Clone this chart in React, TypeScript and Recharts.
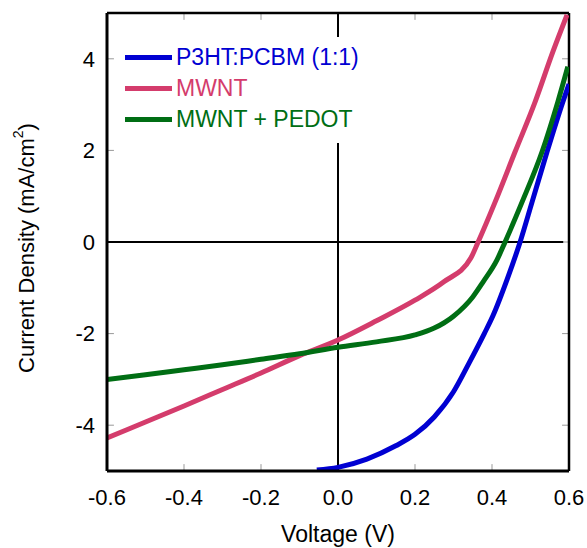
import React from 'react';
import {
  LineChart,
  Line,
  XAxis,
  YAxis,
  ReferenceLine,
  Legend,
  Label,
} from 'recharts';

// voltage (V) / current density (mA/cm2)
const p3htVoltage = [-0.055, 0, 0.075, 0.15, 0.2, 0.25, 0.3, 0.34, 0.38, 0.403, 0.44, 0.473, 0.504, 0.543, 0.584, 0.6];
const p3htCurrent = [-4.98, -4.92, -4.74, -4.45, -4.2, -3.82, -3.27, -2.65, -2.0, -1.6, -0.8, 0, 0.87, 1.97, 3.06, 3.45];

const mwntVoltage = [-0.6, -0.5, -0.4, -0.3, -0.2, -0.1, 0, 0.1, 0.2, 0.275, 0.345, 0.364, 0.408, 0.46, 0.512, 0.558, 0.595];
const mwntCurrent = [-4.28, -3.93, -3.58, -3.22, -2.86, -2.48, -2.14, -1.72, -1.27, -0.87, -0.35, 0, 0.87, 1.97, 3.06, 4.15, 4.96];

const pedotVoltage = [-0.6, -0.5, -0.4, -0.3, -0.2, -0.1, 0, 0.1, 0.2, 0.25, 0.3, 0.35, 0.377, 0.413, 0.434, 0.478, 0.53, 0.571, 0.597];
const pedotCurrent = [-3.0, -2.9, -2.79, -2.68, -2.56, -2.44, -2.3, -2.18, -2.03, -1.88, -1.62, -1.2, -0.87, -0.39, 0, 0.87, 1.97, 3.06, 3.83];

const xTicks = [-0.6, -0.4, -0.2, 0, 0.2, 0.4, 0.6];
const yTicks = [-4, -2, 0, 2, 4];
const xDomain: [number, number] = [-0.6, 0.6];
const yDomain: [number, number] = [-5, 5];

const toPoints = (vs: number[], js: number[]) => vs.map((v, i) => ({ v, j: js[i] }));

const series = [
  { name: 'P3HT:PCBM (1:1)', color: '#0000d2', data: toPoints(p3htVoltage, p3htCurrent) },
  { name: 'MWNT', color: '#d43c6c', data: toPoints(mwntVoltage, mwntCurrent) },
  { name: 'MWNT + PEDOT', color: '#006e14', data: toPoints(pedotVoltage, pedotCurrent) },
];

const font = '"Liberation Sans", Arial, sans-serif';
const tickColor = '#999';
// inward tick length, in data units (about 7px)
const xTickLen = 0.018;
const yTickLen = 0.15;

function BottomTick(props: any) {
  const { x, y, payload } = props;
  return (
    <text x={x} y={y} dy="0.71em" textAnchor="middle" fontSize={22} fill="#000" fontFamily={font}>
      {Number(payload.value).toFixed(1)}
    </text>
  );
}

function LeftTick(props: any) {
  const { x, y, payload } = props;
  return (
    <text x={x} y={y} dy="0.355em" textAnchor="end" fontSize={22} fill="#000" fontFamily={font}>
      {payload.value}
    </text>
  );
}

function YTitle(props: any) {
  const { viewBox } = props;
  const cx = viewBox.x + 26;
  const cy = viewBox.y + viewBox.height / 2 + 6;
  return (
    <text
      x={cx}
      y={cy}
      transform={`rotate(-90, ${cx}, ${cy})`}
      textAnchor="middle"
      dominantBaseline="central"
      fontSize={22}
      fontFamily={font}
      fill="#000"
    >
      Current Density (mA/cm
      <tspan dy={-8} fontSize={14}>2</tspan>
      <tspan dy={8}>)</tspan>
    </text>
  );
}

function XTitle(props: any) {
  const { viewBox } = props;
  return (
    <text
      x={viewBox.x + viewBox.width / 2}
      y={viewBox.y + 71}
      textAnchor="middle"
      fontSize={23}
      fontFamily={font}
      fill="#000"
    >
      Voltage (V)
    </text>
  );
}

function SeriesLegend() {
  return (
    <div style={{ background: '#fff', padding: '5px 4px 8px 10px', fontFamily: font }}>
      {series.map((s) => (
        <div key={s.name} style={{ display: 'flex', alignItems: 'center', height: 31 }}>
          <span style={{ display: 'inline-block', width: 47, height: 5, background: s.color, marginRight: 4 }} />
          <span style={{ color: s.color, fontSize: 23, whiteSpace: 'nowrap', lineHeight: '31px' }}>{s.name}</span>
        </div>
      ))}
    </div>
  );
}

export default function App() {
  return (
    <div style={{ position: 'absolute', left: 0, top: 0, width: 587, height: 548, background: '#fff' }}>
      <LineChart width={587} height={548} margin={{ top: 13, right: 18, bottom: 0, left: 0 }}>
        <XAxis
          dataKey="v"
          type="number"
          domain={xDomain}
          ticks={xTicks}
          allowDataOverflow
          height={77}
          tickSize={0}
          tickMargin={18}
          tickLine={false}
          tick={<BottomTick />}
          axisLine={{ stroke: '#000', strokeWidth: 3 }}
          interval={0}
        >
          <Label content={<XTitle />} />
        </XAxis>
        <YAxis
          dataKey="j"
          type="number"
          domain={yDomain}
          ticks={yTicks}
          allowDataOverflow
          width={107}
          tickSize={0}
          tickMargin={12}
          tickLine={false}
          tick={<LeftTick />}
          axisLine={{ stroke: '#000', strokeWidth: 3 }}
          interval={0}
        >
          <Label content={<YTitle />} />
        </YAxis>

        {/* inward ticks on all four sides */}
        {xTicks.map((t) => (
          <ReferenceLine key={`xb${t}`} segment={[{ x: t, y: yDomain[0] }, { x: t, y: yDomain[0] + yTickLen }]} stroke={tickColor} strokeWidth={1} />
        ))}
        {xTicks.map((t) => (
          <ReferenceLine key={`xt${t}`} segment={[{ x: t, y: yDomain[1] }, { x: t, y: yDomain[1] - yTickLen }]} stroke={tickColor} strokeWidth={1} />
        ))}
        {yTicks.map((t) => (
          <ReferenceLine key={`yl${t}`} segment={[{ x: xDomain[0], y: t }, { x: xDomain[0] + xTickLen, y: t }]} stroke={tickColor} strokeWidth={1} />
        ))}
        {yTicks.map((t) => (
          <ReferenceLine key={`yr${t}`} segment={[{ x: xDomain[1], y: t }, { x: xDomain[1] - xTickLen, y: t }]} stroke={tickColor} strokeWidth={1} />
        ))}

        {/* top and right frame */}
        <ReferenceLine y={yDomain[1]} stroke="#000" strokeWidth={2.5} />
        <ReferenceLine x={xDomain[1]} stroke="#000" strokeWidth={2.5} />

        {/* zero lines */}
        <ReferenceLine x={0} stroke="#000" strokeWidth={2} />
        <ReferenceLine segment={[{ x: xDomain[0], y: 0 }, { x: 0.585, y: 0 }]} stroke="#000" strokeWidth={2} />

        {series.map((s) => (
          <Line
            key={s.name}
            data={s.data}
            dataKey="j"
            name={s.name}
            type="monotone"
            stroke={s.color}
            strokeWidth={5}
            dot={false}
            isAnimationActive={false}
          />
        ))}
        <Legend
          layout="horizontal"
          verticalAlign="middle"
          align="center"
          content={<SeriesLegend />}
          wrapperStyle={{ position: 'absolute', left: 115, top: 37, width: 'auto', height: 'auto' }}
        />
      </LineChart>
    </div>
  );
}
